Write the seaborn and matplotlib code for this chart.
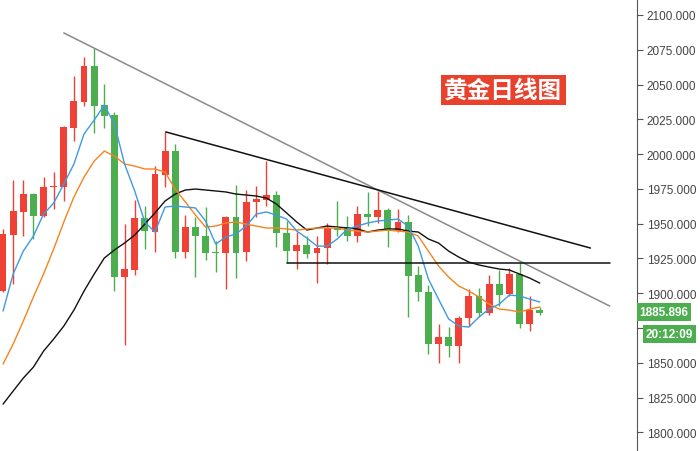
import pandas as pd
import matplotlib.pyplot as plt
import seaborn as sns
import numpy as np

# 日线K线数据 (开, 收, 高, 低)
opens = [1901.6, 1941.8, 1958.4, 1971.3, 1955.5, 1976.4, 1976.4, 2018.8, 2037.5, 2063.3,
         2035.3, 2028.1, 1911.6, 1916.7, 1954.1, 1944.0, 1985.0, 2002.2, 1929.6, 1947.6,
         1941.1, 1929.6, 1928.9, 1954.8, 1929.6, 1965.6, 1967.0, 1970.6, 1943.3, 1930.3,
         1934.7, 1928.9, 1932.5, 1946.5, 1947.6, 1941.1, 1956.9, 1954.8, 1959.8, 1944.7,
         1951.2, 1913.1, 1900.9, 1863.5, 1868.5, 1862.0, 1882.2, 1898.0, 1885.8, 1906.6,
         1899.4, 1913.8, 1877.9, 1887.9]
closes = [1942.6, 1959.1, 1971.3, 1955.5, 1976.3, 1977.1, 2019.5, 2038.2, 2063.3, 2034.6,
          2027.4, 1911.6, 1917.4, 1954.1, 1944.7, 1985.7, 2002.2, 1929.6, 1947.6, 1941.1,
          1928.9, 1928.9, 1954.8, 1928.9, 1965.6, 1967.7, 1970.6, 1943.3, 1930.3, 1934.7,
          1928.2, 1932.5, 1946.9, 1945.8, 1941.1, 1956.9, 1954.8, 1959.8, 1944.7, 1951.2,
          1912.4, 1900.9, 1863.5, 1868.5, 1862.0, 1882.2, 1898.0, 1885.8, 1906.6, 1898.7,
          1913.8, 1877.9, 1887.9, 1885.9]
highs = [1946.2, 1981.4, 1981.4, 1972.0, 1983.5, 1987.1, 2020.5, 2056.1, 2069.8, 2076.3,
         2050.4, 2030.3, 1949.7, 1967.0, 1962.7, 1991.4, 2016.6, 2007.3, 1956.2, 1954.8,
         1962.0, 1937.5, 1955.5, 1977.8, 1974.2, 1977.1, 1995.0, 1973.5, 1951.9, 1944.0,
         1941.1, 1941.1, 1950.5, 1966.3, 1955.5, 1962.7, 1972.8, 1973.5, 1961.3, 1960.5,
         1956.2, 1919.6, 1905.9, 1877.9, 1875.7, 1883.6, 1903.0, 1903.7, 1913.1, 1916.7,
         1918.1, 1922.4, 1898.0, 1890.0]
lows = [1900.9, 1906.6, 1941.1, 1939.0, 1954.5, 1960.5, 1966.3, 2009.4, 2034.6, 2015.2,
        2018.8, 1901.6, 1862.8, 1913.1, 1931.8, 1929.6, 1976.3, 1925.3, 1925.3, 1911.6,
        1923.9, 1915.2, 1903.0, 1910.9, 1923.1, 1954.8, 1962.7, 1933.2, 1921.7, 1917.4,
        1925.3, 1907.3, 1921.0, 1941.1, 1937.5, 1936.8, 1948.3, 1950.5, 1933.2, 1944.0,
        1882.9, 1894.4, 1856.3, 1849.8, 1854.1, 1849.8, 1876.4, 1882.9, 1884.3, 1890.8,
        1898.0, 1875.0, 1872.8, 1884.3]

# 均线
ma5 = [1887.2, 1913.8, 1930.3, 1941.1, 1956.9, 1964.8, 1978.5, 1992.9, 2014.5, 2024.5,
       2035.3, 2021.6, 1992.9, 1973.5, 1951.2, 1944.0, 1962.0, 1962.7, 1962.0, 1961.3,
       1951.9, 1935.4, 1940.4, 1942.6, 1948.3, 1956.9, 1958.4, 1956.2, 1953.3, 1944.7,
       1939.7, 1933.9, 1933.9, 1939.0, 1946.2, 1948.3, 1950.5, 1951.9, 1952.6, 1953.3,
       1948.3, 1933.9, 1910.2, 1895.8, 1881.5, 1876.4, 1875.7, 1882.9, 1888.6, 1892.2,
       1898.7, 1898.0, 1895.8, 1893.7]
ma10 = [1849.1, 1863.5, 1880.0, 1897.3, 1913.8, 1931.8, 1951.2, 1969.2, 1983.5, 1995.0,
        2002.2, 1998.6, 1992.9, 1991.4, 1989.3, 1989.3, 1987.1, 1974.9, 1965.6, 1956.2,
        1947.6, 1948.3, 1950.5, 1951.2, 1949.7, 1948.3, 1946.9, 1946.9, 1946.2, 1945.4,
        1946.2, 1946.9, 1946.9, 1946.9, 1945.4, 1944.7, 1944.0, 1944.7, 1945.4, 1944.7,
        1944.0, 1941.1, 1930.3, 1919.6, 1911.6, 1905.2, 1901.6, 1897.3, 1892.2, 1888.6,
        1887.9, 1886.5, 1888.6, 1890.1]
ma20 = [1820.3, 1829.7, 1839.0, 1846.9, 1858.4, 1867.1, 1876.4, 1887.9, 1901.6, 1913.8,
        1925.3, 1931.1, 1936.1, 1941.8, 1949.7, 1957.7, 1966.3, 1971.3, 1974.2, 1974.9,
        1974.2, 1973.5, 1972.8, 1971.3, 1970.6, 1969.9, 1968.4, 1964.1, 1957.7, 1951.2,
        1945.4, 1946.9, 1948.3, 1947.6, 1946.9, 1946.2, 1944.0, 1945.4, 1946.2, 1946.2,
        1944.7, 1944.0, 1939.0, 1936.1, 1930.3, 1926.0, 1922.4, 1920.3, 1918.8, 1917.4,
        1916.7, 1913.8, 1910.9, 1907.3]

# 趋势线端点 (K线序号, 价格)
trend_gray = [(6.0, 2087.1), (59.9, 1890.8)]
trend_black = [(16.1, 2015.9), (58.0, 1932.5)]
support = [(28.0, 1922.0), (59.9, 1922.0)]

yticks = [1800, 1825, 1850, 1875, 1900, 1925, 1950, 1975, 2000, 2025, 2050, 2075, 2100]
# 1875 的刻度文字被当前价格标签挡住
ytick_labels = ['1800.000', '1825.000', '1850.000', '', '1900.000', '1925.000', '1950.000',
                '1975.000', '2000.000', '2025.000', '2050.000', '2075.000', '2100.000']
last_price = 1885.896
timer_text = '20:12:09'
title = '黄金日线图'

UP = '#ef4136'
DOWN = '#4cae4f'

df = pd.DataFrame({'open': opens, 'close': closes, 'high': highs, 'low': lows})
df['idx'] = np.arange(len(df))
df['color'] = np.where(df['close'] >= df['open'], UP, DOWN)
df['body_lo'] = df[['open', 'close']].min(axis=1)
df['body_h'] = (df['close'] - df['open']).abs().clip(lower=0.8)

ma_df = pd.DataFrame({'idx': np.arange(len(ma5)), 'MA5': ma5, 'MA10': ma10, 'MA20': ma20})

sns.set_style('white')
plt.rcParams['font.family'] = ['Liberation Sans', 'Noto Sans CJK SC', 'DejaVu Sans']

fig = plt.figure(figsize=(7, 4.52), dpi=100)
ax = fig.add_axes([0, 0, 637 / 700, 1])

# 影线和实体
ax.vlines(df['idx'], df['low'], df['high'], colors=df['color'], linewidth=1.0, zorder=2)
ax.bar(df['idx'], df['body_h'], bottom=df['body_lo'], width=0.68, color=df['color'],
       linewidth=0, zorder=3)

# 均线
sns.lineplot(data=ma_df, x='idx', y='MA20', color='#111111', linewidth=1.0, ax=ax, zorder=4)
sns.lineplot(data=ma_df, x='idx', y='MA10', color='#f5841f', linewidth=1.0, ax=ax, zorder=4)
sns.lineplot(data=ma_df, x='idx', y='MA5', color='#3f9ae0', linewidth=1.0, ax=ax, zorder=4)

# 趋势线
for pts, c in [(trend_gray, '#8a8a8a'), (trend_black, '#111111'), (support, '#111111')]:
    tx, ty = zip(*pts)
    sns.lineplot(x=list(tx), y=list(ty), color=c, linewidth=1.1, ax=ax, zorder=5)

ax.set_xlim(-0.3, 62.6)
ax.set_ylim(1786.6, 2111.5)
ax.set_xlabel('')
ax.set_ylabel('')
ax.set_xticks([])

ax.yaxis.tick_right()
ax.set_yticks(yticks)
ax.set_yticklabels(ytick_labels)
ax.tick_params(axis='y', direction='out', length=4, width=0.8, color='#555555',
               labelcolor='#444444', labelsize=8.5, pad=3)
for s in ['top', 'left', 'bottom']:
    ax.spines[s].set_visible(False)
ax.spines['right'].set_color('#555555')
ax.spines['right'].set_linewidth(0.8)

# 右侧当前价格和倒计时
ax.text(1.004, last_price + 0.3, f'{last_price:.3f}', transform=ax.get_yaxis_transform(),
        ha='left', va='center', fontsize=8.5, fontweight='bold', color='white',
        bbox=dict(boxstyle='square,pad=0.25', fc=DOWN, ec='none'), clip_on=False, zorder=10)
ax.text(1.014, 1871.0, timer_text, transform=ax.get_yaxis_transform(),
        ha='left', va='center', fontsize=8.5, fontweight='bold', color='white',
        bbox=dict(boxstyle='square,pad=0.25', fc=DOWN, ec='none'), clip_on=False, zorder=10)

# 标题
ax.text(0.79, 0.799, title, transform=ax.transAxes, ha='center', va='center',
        fontsize=17, fontweight='bold', color='white', family=['Noto Sans CJK SC'],
        bbox=dict(boxstyle='square,pad=0.14', fc='#e8412c', ec='none'), zorder=10)

fig.savefig('out.png', dpi=100)
